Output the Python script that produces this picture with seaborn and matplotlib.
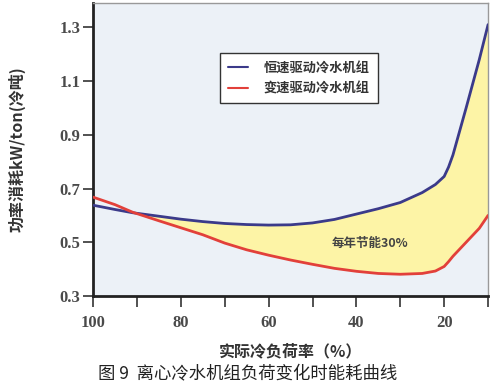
import matplotlib
matplotlib.use("Agg")
import matplotlib.pyplot as plt
import seaborn as sns
import pandas as pd

# --- donnees ---
load_pct = [100, 95, 91, 85, 80, 75, 70, 65, 60, 55, 50, 45, 40, 35, 30, 25, 22, 20, 19, 18, 15, 12, 10]
constant_speed = [0.638, 0.622, 0.610, 0.597, 0.586, 0.577, 0.570, 0.566, 0.564, 0.565, 0.572, 0.585,
                  0.605, 0.625, 0.648, 0.685, 0.715, 0.745, 0.780, 0.825, 1.000, 1.180, 1.310]
variable_speed = [0.668, 0.640, 0.612, 0.580, 0.554, 0.528, 0.497, 0.472, 0.452, 0.434, 0.418, 0.403,
                  0.392, 0.384, 0.381, 0.384, 0.393, 0.410, 0.428, 0.448, 0.500, 0.552, 0.600]
series_names = ["恒速驱动冷水机组", "变速驱动冷水机组"]
y_ticks = [0.3, 0.5, 0.7, 0.9, 1.1, 1.3]
x_major = [100, 80, 60, 40, 20]
x_minor = [90, 70, 50, 30, 10]

df = pd.DataFrame({"load": load_pct, "cs": constant_speed, "vs": variable_speed})

sns.set_style("white")
plt.rcParams["font.family"] = ["Noto Sans CJK SC", "DejaVu Sans"]

fig = plt.figure(figsize=(4.95, 3.89), dpi=100)
ax = fig.add_axes([0.188, 0.239, 0.798, 0.753])
ax.set_facecolor("#ecf1f7")

blue = "#3b3a8a"
red = "#e2403a"

# zone d'economie (jaune)
ax.fill_between(df["load"], df["cs"], df["vs"], where=df["cs"] >= df["vs"],
                interpolate=True, color="#fdf4a6", linewidth=0, zorder=1)
sns.lineplot(data=df, x="load", y="cs", ax=ax, color=blue, linewidth=2,
             sort=False, label=series_names[0], zorder=3)
sns.lineplot(data=df, x="load", y="vs", ax=ax, color=red, linewidth=2,
             sort=False, label=series_names[1], zorder=3)

ax.text(37, 0.497, "每年节能30%", fontsize=9, fontweight="bold", color="#444444",
        ha="center", va="center", zorder=4)

ax.set_xlim(100, 10)
ax.set_ylim(0.3, 1.39)

ax.set_yticks(y_ticks)
ax.set_yticklabels([f"{v:.1f}" for v in y_ticks])
ax.set_xticks(x_major)
ax.set_xticks(x_minor, minor=True)
ax.set_xticklabels([str(v) for v in x_major])
for lab in ax.get_xticklabels() + ax.get_yticklabels():
    lab.set_family("Liberation Serif")
    lab.set_fontweight("bold")
    lab.set_fontsize(12)
    lab.set_color("#4a4a4a")
ax.tick_params(axis="y", which="major", direction="out", length=7, width=1.2,
               color="#333333", left=True, pad=2)
ax.tick_params(axis="x", which="both", direction="out", length=8, width=1.2,
               color="#333333", bottom=True, pad=6)

for side in ["left", "bottom"]:
    ax.spines[side].set_color("#222222")
    ax.spines[side].set_linewidth(2)
for side in ["top", "right"]:
    ax.spines[side].set_color("#999999")
    ax.spines[side].set_linewidth(1)

ax.set_xlabel("实际冷负荷率（%）", fontsize=11.5, fontweight="bold", color="#333333")
ax.set_ylabel("功率消耗kW/ton(冷吨)", fontsize=11.5, fontweight="bold", color="#333333")
ax.xaxis.set_label_coords(0.5, -0.16)
ax.yaxis.set_label_coords(-0.172, 0.5)

leg = ax.legend(loc="upper left", bbox_to_anchor=(0.322, 0.83), borderaxespad=0,
                fancybox=False, frameon=True, handlelength=1.5, handletextpad=1.2,
                borderpad=0.6, prop={"weight": "bold", "size": 9.5})
leg.get_frame().set_edgecolor("#333333")
leg.get_frame().set_linewidth(1)
leg.get_frame().set_facecolor("white")
leg.get_frame().set_alpha(1)
for t in leg.get_texts():
    t.set_color("#333333")
for line in leg.get_lines():
    line.set_linewidth(1.5)

fig.text(0.5, 0.018, "图 9  离心冷水机组负荷变化时能耗曲线", fontsize=12.5, ha="center",
         va="bottom", color="#222222")

fig.savefig("out.png", dpi=100)
